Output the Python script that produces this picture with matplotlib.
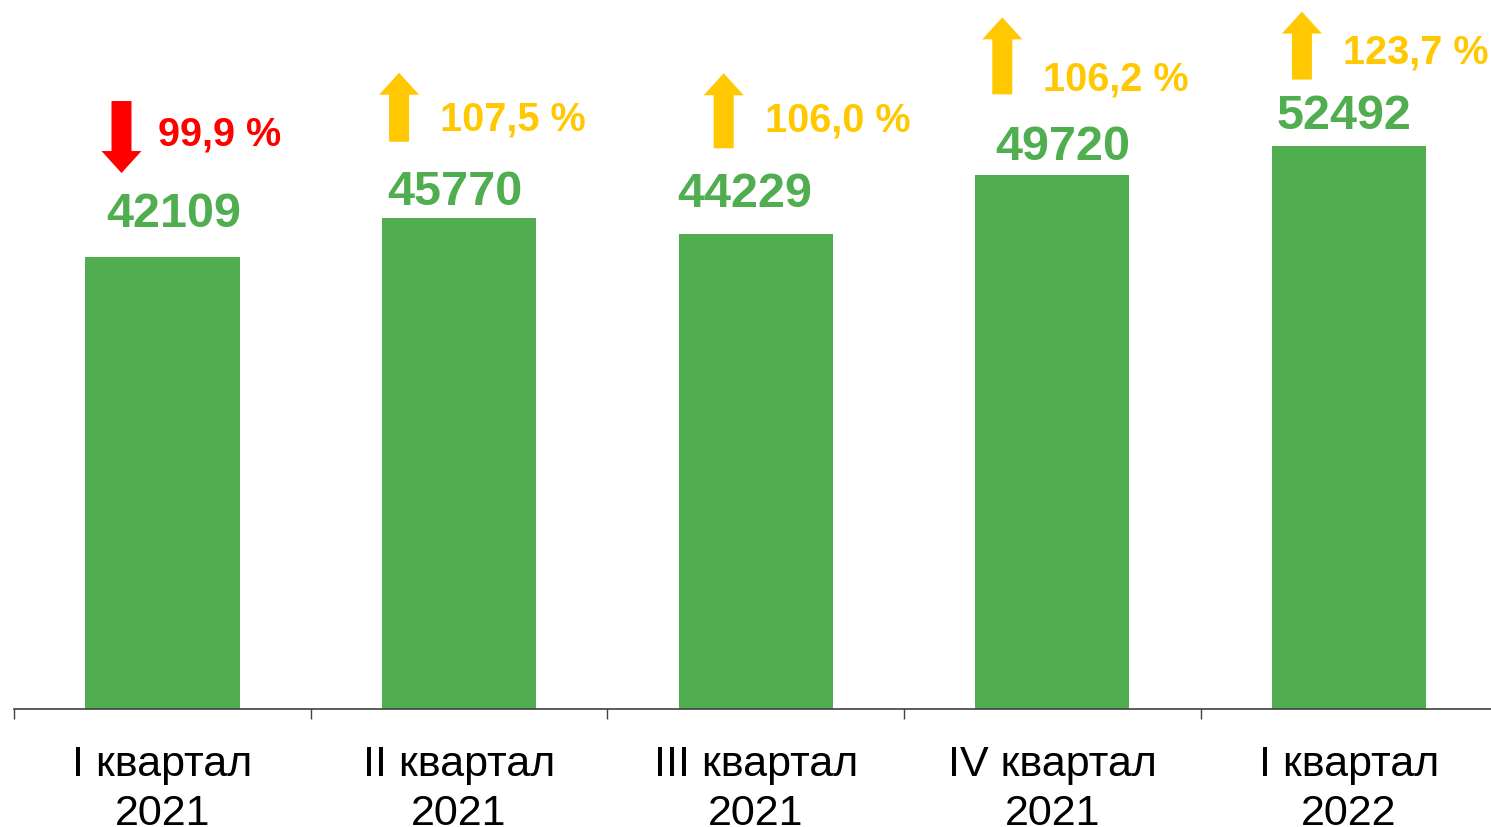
import matplotlib
matplotlib.use('Agg')
import matplotlib.pyplot as plt
from matplotlib.patches import FancyArrow
from matplotlib.transforms import IdentityTransform

# data
categories = ['I квартал\n2021', 'II квартал\n2021', 'III квартал\n2021',
              'IV квартал\n2021', 'I квартал\n2022']
values = [42109, 45770, 44229, 49720, 52492]
growth = ['99,9 %', '107,5 %', '106,0 %', '106,2 %', '123,7 %']
growth_up = [False, True, True, True, True]

# label placement relative to bar top (pixels, +y = up)
value_off = [(11, 31), (-4, 14), (-11, 28), (10, 16), (-5, 18)]
pct_off = [(-4, 113), (-19, 88), (9, 104), (-9, 86), (-6, 83)]
arrow_x = [-41, -60, -32, -50, -47]
arrow_span = [(156, 84), (76, 145), (86, 161), (81, 158), (66, 134)]  # tail, tip

GREEN = '#50ae50'
YELLOW = '#ffc800'
RED = '#ff0000'

plt.rcParams['font.family'] = ['Liberation Sans', 'DejaVu Sans']

fig = plt.figure(figsize=(14.91, 8.28), dpi=100)
ax = fig.add_axes([14.2 / 1491, 118 / 828, 1483 / 1491, 710 / 828])

x = list(range(len(values)))
ax.bar(x, values, width=0.52, color=GREEN)
ax.set_xlim(-0.5, len(values) - 0.5)
ax.set_ylim(0, 66150)

for s in ['top', 'right', 'left']:
    ax.spines[s].set_visible(False)
ax.spines['bottom'].set_color('#404040')
ax.spines['bottom'].set_linewidth(1.2)
ax.set_yticks([])

ax.set_xticks(x)
ax.set_xticklabels(categories, fontsize=31, linespacing=1.3)
ax.tick_params(axis='x', which='major', length=0, pad=25)
ax.set_xticks([i - 0.5 for i in range(len(values))], minor=True)
ax.tick_params(axis='x', which='minor', length=7.5, width=1.0, color='#404040')

for i, v in enumerate(values):
    dx, dy = value_off[i]
    ax.annotate(str(v), xy=(i, v), xytext=(dx, dy), textcoords='offset pixels',
                ha='center', va='baseline', fontsize=35, fontweight='bold', color=GREEN)

    col = YELLOW if growth_up[i] else RED
    dx, dy = pct_off[i]
    ax.annotate(growth[i], xy=(i, v), xytext=(dx, dy), textcoords='offset pixels',
                ha='left', va='baseline', fontsize=28.5, fontweight='bold', color=col)

    # block arrow in display pixels
    bx, by = ax.transData.transform((i, v))
    tail, tip = arrow_span[i]
    ax_x = bx + arrow_x[i]
    arr = FancyArrow(ax_x, by + tail, 0, tip - tail, width=20, head_width=40,
                     head_length=22, length_includes_head=True, color=col,
                     transform=IdentityTransform(), linewidth=0)
    fig.add_artist(arr)

fig.savefig('out.png', dpi=100)
